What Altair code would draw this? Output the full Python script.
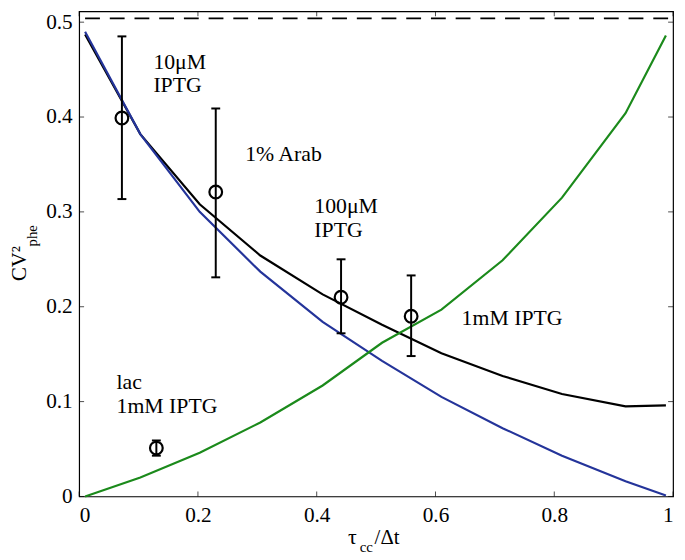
import altair as alt
import pandas as pd

# ---- data ----
x_grid = [0.01, 0.103, 0.203, 0.305, 0.41, 0.51, 0.61, 0.713, 0.813, 0.92, 0.988]
black_y = [0.487, 0.382, 0.308, 0.254, 0.213, 0.181, 0.151, 0.127, 0.108, 0.095, 0.096]
blue_y = [0.490, 0.382, 0.300, 0.237, 0.184, 0.143, 0.105, 0.072, 0.043, 0.016, 0.001]
green_y = [0.0, 0.020, 0.046, 0.078, 0.117, 0.162, 0.197, 0.249, 0.315, 0.404, 0.486]

dash_x = [0.01, 0.995]
dash_y = [0.504, 0.504]

pt_x = [0.072, 0.23, 0.441, 0.559, 0.13]
pt_y = [0.399, 0.321, 0.210, 0.190, 0.051]
pt_lo = [0.3135, 0.231, 0.172, 0.148, 0.043]
pt_hi = [0.485, 0.409, 0.250, 0.233, 0.059]

lab_text = ["10μM", "IPTG", "1% Arab", "100μM", "IPTG", "1mM IPTG", "lac", "1mM IPTG"]
lab_x = [0.125, 0.125, 0.2795, 0.396, 0.396, 0.644, 0.063, 0.063]
lab_y = [0.451, 0.426, 0.354, 0.299, 0.274, 0.181, 0.1135, 0.0875]

x_ticks = [0, 0.2, 0.4, 0.6, 0.8, 1]
y_ticks = [0, 0.1, 0.2, 0.3, 0.4, 0.5]

# ---- tables ----
lines = pd.DataFrame({"x": x_grid, "black": black_y, "blue": blue_y, "green": green_y})
dash = pd.DataFrame({"x": dash_x, "y": dash_y})
pts = pd.DataFrame({"x": pt_x, "y": pt_y, "lo": pt_lo, "hi": pt_hi})
labs = pd.DataFrame({"x": lab_x, "y": lab_y, "t": lab_text})
xt = pd.DataFrame({"v": x_ticks})
yt = pd.DataFrame({"v": y_ticks})

W, H = 601, 491
FONT = "Liberation Serif, Times New Roman, serif"
FS = 21
TK = 5

X = alt.Scale(domain=[0, 1], nice=False, zero=False)
Y = alt.Scale(domain=[0, 0.5115], nice=False, zero=False)

x_axis = alt.Axis(values=x_ticks, grid=False, domain=False, title=None, ticks=False,
                  format="~g", labelFont=FONT, labelFontSize=FS + 0.5, labelColor="black",
                  labelPadding=8)
y_axis = alt.Axis(values=y_ticks, grid=False, domain=False, title=None, ticks=False,
                  format="~g", labelFont=FONT, labelFontSize=FS + 0.5, labelColor="black",
                  labelPadding=7)

base = alt.Chart(lines)
black = base.mark_line(color="black", strokeWidth=2.2).encode(
    x=alt.X("x:Q", scale=X, axis=x_axis),
    y=alt.Y("black:Q", scale=Y, axis=y_axis),
)
blue = base.mark_line(color="#24349a", strokeWidth=2.2).encode(
    x=alt.X("x:Q", scale=X, axis=None),
    y=alt.Y("blue:Q", scale=Y, axis=None),
)
green = base.mark_line(color="#1b8a1b", strokeWidth=2.2).encode(
    x=alt.X("x:Q", scale=X, axis=None),
    y=alt.Y("green:Q", scale=Y, axis=None),
)
dashed = alt.Chart(dash).mark_line(color="black", strokeWidth=2, strokeDash=[15, 10]).encode(
    x=alt.X("x:Q", scale=X, axis=None),
    y=alt.Y("y:Q", scale=Y, axis=None),
)

# inward-pointing ticks on all four sides
tick_b = alt.Chart(xt).mark_tick(color="black", orient="vertical", size=TK, thickness=1).encode(
    x=alt.X("v:Q", scale=X, axis=None), y=alt.value(H - TK / 2))
tick_t = alt.Chart(xt).mark_tick(color="black", orient="vertical", size=TK, thickness=1).encode(
    x=alt.X("v:Q", scale=X, axis=None), y=alt.value(TK / 2))
tick_l = alt.Chart(yt).mark_tick(color="black", orient="horizontal", size=TK, thickness=1).encode(
    y=alt.Y("v:Q", scale=Y, axis=None), x=alt.value(TK / 2))
tick_r = alt.Chart(yt).mark_tick(color="black", orient="horizontal", size=TK, thickness=1).encode(
    y=alt.Y("v:Q", scale=Y, axis=None), x=alt.value(W - TK / 2))

err = alt.Chart(pts).mark_rule(color="black", strokeWidth=2).encode(
    x=alt.X("x:Q", scale=X, axis=None),
    y=alt.Y("lo:Q", scale=Y, axis=None),
    y2="hi:Q",
)
cap_lo = alt.Chart(pts).mark_tick(color="black", orient="horizontal", size=9, thickness=2, opacity=1).encode(
    x=alt.X("x:Q", scale=X, axis=None),
    y=alt.Y("lo:Q", scale=Y, axis=None),
)
cap_hi = alt.Chart(pts).mark_tick(color="black", orient="horizontal", size=9, thickness=2, opacity=1).encode(
    x=alt.X("x:Q", scale=X, axis=None),
    y=alt.Y("hi:Q", scale=Y, axis=None),
)
circ = alt.Chart(pts).mark_point(shape="circle", size=165, color="black", filled=False,
                                 strokeWidth=2.2, opacity=1).encode(
    x=alt.X("x:Q", scale=X, axis=None),
    y=alt.Y("y:Q", scale=Y, axis=None),
)

texts = alt.Chart(labs).mark_text(font=FONT, fontSize=22, align="left", baseline="alphabetic", color="black").encode(
    x=alt.X("x:Q", scale=X, axis=None),
    y=alt.Y("y:Q", scale=Y, axis=None),
    text="t:N",
)

# axis titles (with sub/superscripts)
def tmark(t, px, py, fs, angle=0):
    return alt.Chart(pd.DataFrame({"t": [t]})).mark_text(
        font=FONT, fontSize=fs, align="left", baseline="alphabetic", color="black", angle=angle
    ).encode(x=alt.value(px), y=alt.value(py), text="t:N")

xt1 = tmark("τ", 272, 539, FS + 1)
xt2 = tmark("cc", 284, 547, 15)
xt3 = tmark("/Δt", 299, 539, FS)
yt1 = tmark("CV²", -54, 273, FS, 270)
yt2 = tmark("phe", -43, 238, 15, 270)

chart = alt.layer(
    black, blue, green, dashed, tick_b, tick_t, tick_l, tick_r,
    err, cap_lo, cap_hi, circ, texts,
    xt1, xt2, xt3, yt1, yt2,
).resolve_axis(x="independent", y="independent").properties(
    width=W, height=H,
    autosize=alt.AutoSizeParams(type="none"),
    padding={"left": 72, "top": 0, "right": 4, "bottom": 60},
    background="white",
).configure_view(stroke="black", strokeWidth=1.2)

chart.save("out.html", embed_options={"renderer": "svg", "actions": False})
